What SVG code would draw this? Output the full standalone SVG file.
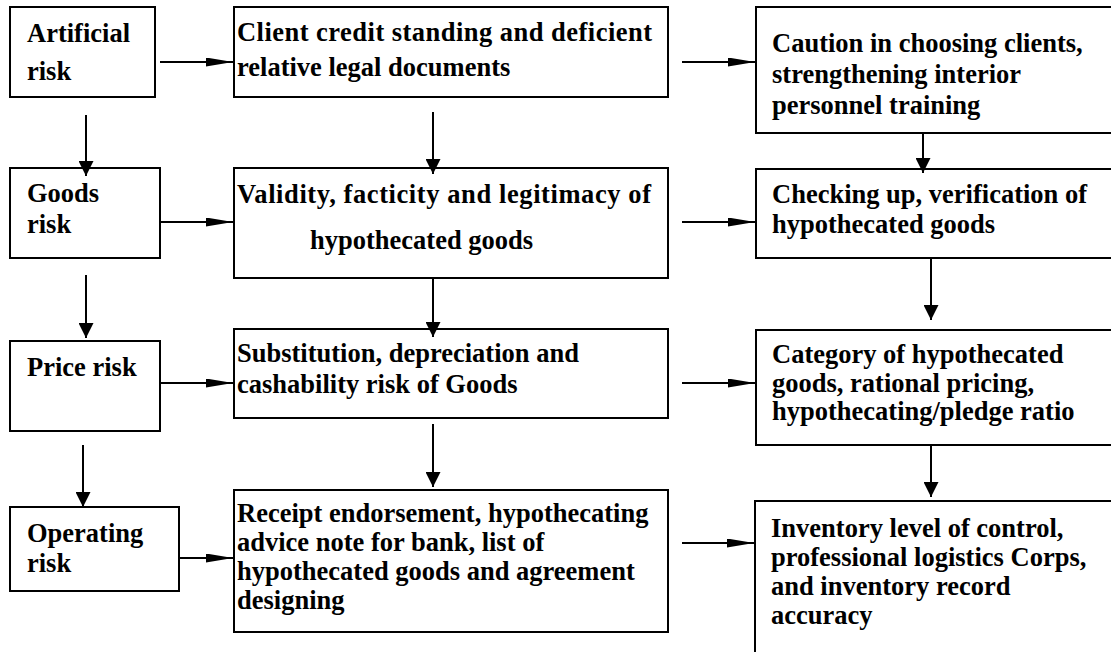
<svg xmlns="http://www.w3.org/2000/svg" width="1111" height="652" viewBox="0 0 1111 652">
<defs>
<style>
.box{fill:#fff;stroke:#000;stroke-width:2}
.t{font-family:"Liberation Serif","Times New Roman",serif;font-weight:bold;font-size:26.5px;fill:#000}
.c{stroke:#000;stroke-width:2;fill:none}
.h{marker-end:url(#ah)}
.v{marker-end:url(#av)}
</style>
<marker id="ah" viewBox="0 0 27 9" refX="27" refY="4.5" markerWidth="27" markerHeight="9" markerUnits="userSpaceOnUse" orient="auto"><path d="M0,0 L27,4.5 L0,9 z" fill="#000"/></marker>
<marker id="av" viewBox="0 0 15 15" refX="15" refY="7.5" markerWidth="15" markerHeight="15" markerUnits="userSpaceOnUse" orient="auto"><path d="M0,0 L15,7.5 L0,15 z" fill="#000"/></marker>
</defs>
<rect width="1111" height="652" fill="#fff"/>
<g id="n-artificial"><rect class="box" x="10" y="7" width="145" height="90"/><text class="t" x="27" y="42">Artificial</text><text class="t" x="27" y="80">risk</text></g>
<g id="n-client"><rect class="box" x="234" y="7" width="434" height="90"/><text class="t" x="237" y="41" textLength="415" lengthAdjust="spacing">Client credit standing and deficient</text><text class="t" x="237" y="76">relative legal documents</text></g>
<g id="n-caution"><rect class="box" x="756" y="7" width="370" height="126"/><text class="t" x="772" y="52">Caution in choosing clients,</text><text class="t" x="772" y="83">strengthening interior</text><text class="t" x="772" y="114">personnel training</text></g>
<g id="n-goods"><rect class="box" x="10" y="168" width="150" height="90"/><text class="t" x="27" y="202">Goods</text><text class="t" x="27" y="233">risk</text></g>
<g id="n-validity"><rect class="box" x="234" y="168" width="434" height="110"/><text class="t" x="237" y="203" textLength="414" lengthAdjust="spacing">Validity, facticity and legitimacy of</text><text class="t" x="310" y="249">hypothecated goods</text></g>
<g id="n-checking"><rect class="box" x="756" y="169" width="370" height="89"/><text class="t" x="772" y="203">Checking up, verification of</text><text class="t" x="772" y="233">hypothecated goods</text></g>
<g id="n-price"><rect class="box" x="10" y="341" width="150" height="90"/><text class="t" x="27" y="376">Price risk</text></g>
<g id="n-substitution"><rect class="box" x="234" y="329" width="434" height="89"/><text class="t" x="237" y="362">Substitution, depreciation and</text><text class="t" x="237" y="393">cashability risk of Goods</text></g>
<g id="n-category"><rect class="box" x="756" y="330" width="370" height="115"/><text class="t" x="772" y="363">Category of hypothecated</text><text class="t" x="772" y="392">goods, rational pricing,</text><text class="t" x="772" y="420">hypothecating/pledge ratio</text></g>
<g id="n-operating"><rect class="box" x="10" y="507" width="169" height="84"/><text class="t" x="27" y="542">Operating</text><text class="t" x="27" y="572">risk</text></g>
<g id="n-receipt"><rect class="box" x="234" y="490" width="434" height="142"/><text class="t" x="237" y="522">Receipt endorsement, hypothecating</text><text class="t" x="237" y="551">advice note for bank, list of</text><text class="t" x="237" y="580">hypothecated goods and agreement</text><text class="t" x="237" y="609">designing</text></g>
<g id="n-inventory"><rect class="box" x="755" y="501" width="370" height="200"/><text class="t" x="771" y="537">Inventory level of control,</text><text class="t" x="771" y="566">professional logistics Corps,</text><text class="t" x="771" y="595">and inventory record</text><text class="t" x="771" y="624">accuracy</text></g>
<g id="connectors">
<line class="c h" x1="160" y1="62" x2="233" y2="62"/>
<line class="c h" x1="160" y1="222" x2="233" y2="222"/>
<line class="c h" x1="160" y1="383" x2="233" y2="383"/>
<line class="c h" x1="179" y1="558" x2="233" y2="558"/>
<line class="c h" x1="682" y1="62" x2="755" y2="62"/>
<line class="c h" x1="682" y1="222" x2="755" y2="222"/>
<line class="c h" x1="682" y1="383" x2="755" y2="383"/>
<line class="c h" x1="682" y1="543" x2="754" y2="543"/>
<line class="c v" x1="86" y1="115" x2="86" y2="176"/>
<line class="c v" x1="86" y1="275" x2="86" y2="338"/>
<line class="c v" x1="83" y1="445" x2="83" y2="507"/>
<line class="c v" x1="433" y1="112" x2="433" y2="174"/>
<line class="c v" x1="433" y1="278" x2="433" y2="337"/>
<line class="c v" x1="433" y1="424" x2="433" y2="487"/>
<line class="c v" x1="923" y1="133" x2="923" y2="173"/>
<line class="c v" x1="931" y1="258" x2="931" y2="320"/>
<line class="c v" x1="931" y1="444" x2="931" y2="497"/>
</g>
</svg>
